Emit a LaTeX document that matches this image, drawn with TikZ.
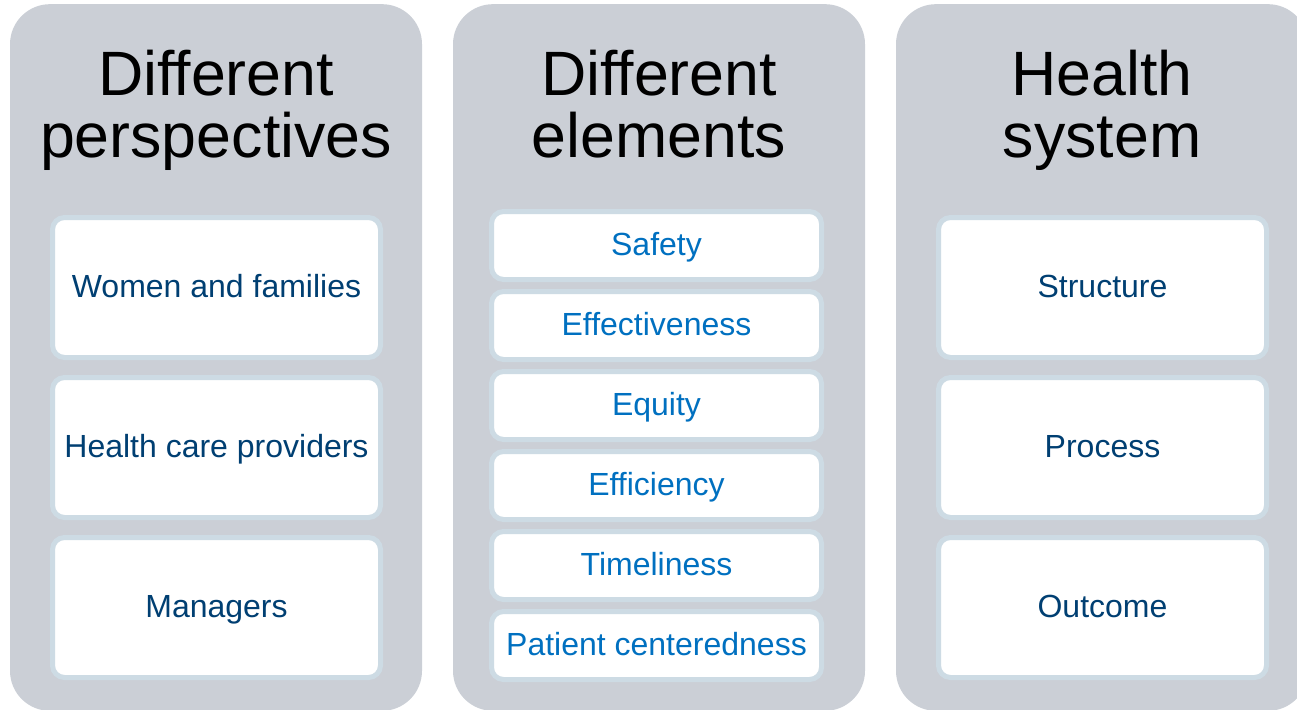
\documentclass[tikz,border=0pt]{standalone}
\usepackage{fontspec}
\setmainfont{Liberation Sans}
\definecolor{panelgray}{HTML}{CBCFD6}
\definecolor{boxline}{HTML}{CDDBE4}
\definecolor{darkblue}{HTML}{003F72}
\definecolor{lightblue}{HTML}{0070C0}
\tikzset{
  panel/.style={fill=panelgray, rounded corners=30pt, minimum width=309pt, minimum height=530pt, inner sep=0pt},
  title/.style={align=center, anchor=north, inner sep=0pt, font=\fontsize{47}{46}\selectfont},
  bigbox/.style={draw=boxline, line width=3.75pt, fill=white, rounded corners=9pt, minimum width=246pt, minimum height=105pt, inner sep=0pt, text height=19pt, text depth=4pt, text=darkblue, font=\fontsize{24}{28}\selectfont},
  smallbox/.style={bigbox, minimum width=247.5pt, minimum height=51pt, text=lightblue}
}
\begin{document}
\begin{tikzpicture}[x=0.75pt,y=-0.75pt]
    \useasboundingbox (0,0) rectangle (1297,710);

    \node[panel] (perspectives) at (216,357.5) {};
    \node[panel] (elements) at (659,357.5) {};
    \node[panel] (system) at (1102,357.5) {};

    \node[title] (ptitle) at (216,50) {Different\\perspectives};
    \node[title] (etitle) at (659,50) {Different\\elements};
    \node[title] (stitle) at (1102,50) {Health\\system};

    \node[bigbox] (women) at (216.5,287.5) {Women and families};
    \node[bigbox] (providers) at (216.5,447.5) {Health care providers};
    \node[bigbox] (managers) at (216.5,607.5) {Managers};

    \node[smallbox] (safety) at (656.5,245.5) {Safety};
    \node[smallbox] (effectiveness) at (656.5,325.5) {Effectiveness};
    \node[smallbox] (equity) at (656.5,405.5) {Equity};
    \node[smallbox] (efficiency) at (656.5,485.5) {Efficiency};
    \node[smallbox] (timeliness) at (656.5,565.5) {Timeliness};
    \node[smallbox] (centeredness) at (656.5,645.5) {Patient centeredness};

    \node[bigbox] (structure) at (1102.5,287.5) {Structure};
    \node[bigbox] (process) at (1102.5,447.5) {Process};
    \node[bigbox] (outcome) at (1102.5,607.5) {Outcome};
\end{tikzpicture}
\end{document}
